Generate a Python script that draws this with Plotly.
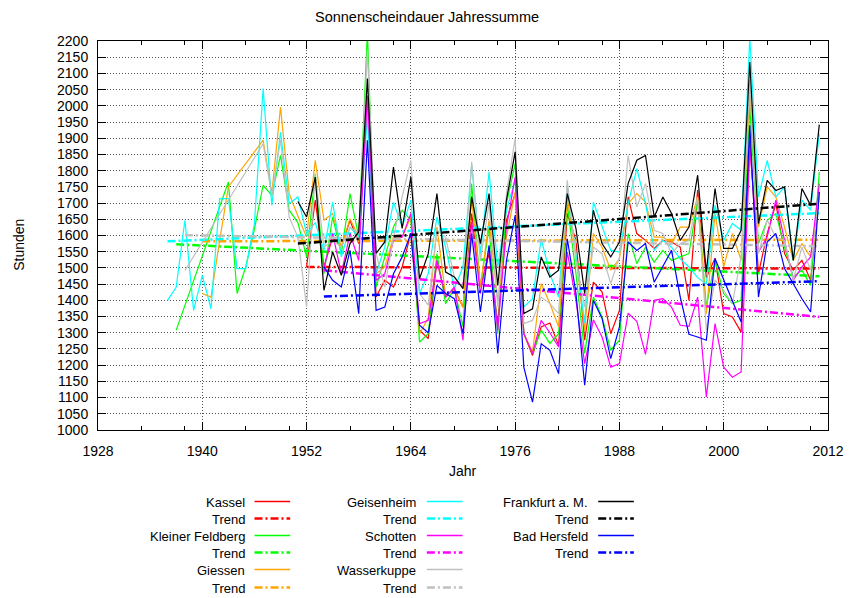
import plotly.graph_objects as go

# ---------------- data ----------------
kassel_start = 1952
kassel = [1503, 1709, 1503, 1595, 1564, 1647, 1575, 2027, 1410, 1462,
          1441, 1503, 1606, 1308, 1282, 1523, 1410, 1436, 1379, 1668,
          1441, 1544, 1328, 1647, 1729, 1297, 1230, 1318, 1330, 1261,
          1668, 1585, 1277, 1456, 1426, 1297, 1369, 1719, 1606, 1585,
          1560, 1585, 1580, 1564, 1400, 1740, 1470, 1530, 1359, 1349,
          1302, 1894, 1482, 1606, 1698, 1544, 1493, 1523, 1462, 1734]
kassel_trend = [1503, 1498]

feldberg_start = 1937
feldberg = [1308, None, None, None, None, None, 1765, 1421, 1503, 1620,
            1755, 1724, 1847, 1678, 1640, 1534, 1790, 1482, 1657, 1544,
            1729, 1595, 2230, 1441, 1534, 1626, 1678, 1647, 1271, 1297,
            1544, 1390, 1436, 1318, 1760, 1441, 1626, 1297, 1698, 1822,
            1297, 1236, 1308, 1267, 1297, 1698, 1482, 1236, 1410, 1349,
            1246, 1277, 1606, 1513, 1564, 1518, 1554, 1523, 1534, 1544,
            1709, 1379, 1523, 1421, 1390, 1400, 1996, 1575, 1647, 1668,
            1564, 1472, 1493, 1446, 1796]
feldberg_trend = [1573, 1474]

giessen_start = 1940
giessen = [1421, 1410, 1585, 1750, None, None, None, 1894, 1729, 1996,
           1729, 1660, 1595, 1832, 1647, 1668, 1564, 1652, 1595, 2020,
           1482, 1503, 1595, 1595, 1657, 1297, 1345, 1626, 1415, 1431,
           1379, 1714, 1441, 1647, 1400, 1595, 1734, 1297, 1241, 1452,
           1390, 1318, 1719, 1534, 1308, 1606, 1564, 1493, 1528, 1698,
           1729, 1703, 1595, 1595, 1575, 1626, 1626, 1719, 1359, 1668,
           1503, 1606, 1523, 2048, 1626, 1750, 1719, 1626, 1523, 1575,
           1534, 1719]
giessen_trend = [1582, 1587]

geisenheim_start = 1936
geisenheim = [1400, 1441, 1647, 1369, 1477, 1374, 1714, 1714, 1498, 1498,
              1637, 2053, 1693, 1919, 1698, 1719, 1606, 1640, 1554, 1703,
              1534, 1626, 1595, 1966, 1482, 1564, 1703, 1626, 1709, 1421,
              1482, 1657, 1564, 1436, 1503, 1817, 1544, 1796, 1503, 1678,
              1770, 1380, 1405, 1590, 1482, 1410, 1750, 1534, 1330, 1703,
              1626, 1554, 1549, 1698, 1806, 1698, 1554, 1585, 1564, 1528,
              1503, 1470, 1450, 1693, 1585, 1637, 1616, 2210, 1719, 1832,
              1719, 1750, 1523, 1709, 1678, 1914]
geisenheim_trend = [1582, 1669]

schotten_start = 1954
schotten = [1500, 1606, 1482, 1606, 1523, 2032, 1462, 1482, 1585, 1595,
            1668, 1328, 1338, 1523, 1410, 1441, 1277, 1642, 1421, 1564,
            1308, 1626, 1780, 1297, 1236, 1338, 1300, 1256, 1549, 1400,
            1205, 1340, 1287, 1194, 1205, 1360, 1335, 1233, 1400, 1405,
            1379, 1323, 1320, 1410, 1102, 1328, 1194, 1163, 1179, 1870,
            1549, 1595, 1709, 1585, 1462, 1503, 1534, 1760]
schotten_trend = [1493, 1349]

wasserkuppe_start = 1938
wasserkuppe = [1492, None, None, None, None, None, None, None, None, 1883,
               1724, 1894, 1657, 1595, 1380, 1790, 1564, 1585, 1564, 1626,
               1606, 2171, 1544, 1441, 1595, 1719, 1832, 1421, 1385, 1616,
               1595, 1472, 1441, 1827, 1523, 1698, 1380, 1729, 1899, 1328,
               1338, 1410, 1390, 1359, 1770, 1523, 1380, 1564, 1544, 1452,
               1534, 1847, 1688, 1760, 1616, 1606, 1544, 1575, 1585, 1719,
               1308, 1462, 1431, 1390, 1534, 2079, 1544, 1647, 1595, 1585,
               1462, 1564, 1493, 1729]
wasserkuppe_trend = [1601, 1567]

frankfurt_start = 1951
frankfurt = [1705, 1657, 1780, 1431, 1549, 1477, 1575, 1611, 2084, 1545,
             1580, 1811, 1622, 1780, 1467, 1544, 1729, 1487, 1472, 1436,
             1719, 1575, 1729, 1446, 1709, 1858, 1359, 1374, 1534, 1472,
             1493, 1729, 1621, 1421, 1678, 1575, 1534, 1580, 1760, 1832,
             1847, 1657, 1719, 1668, 1585, 1626, 1786, 1487, 1745, 1560,
             1560, 1616, 2135, 1637, 1770, 1739, 1750, 1523, 1745, 1693,
             1942]
frankfurt_trend = [1575, 1698]

hersfeld_start = 1954
hersfeld = [1503, 1462, 1441, 1554, 1359, 1894, 1369, 1379, 1482, 1534,
            1606, 1323, 1300, 1446, 1421, 1405, 1297, 1606, 1364, 1570,
            1236, 1523, 1662, 1194, 1086, 1266, 1246, 1174, 1590, 1421,
            1138, 1400, 1344, 1220, 1318, 1580, 1554, 1575, 1456, 1503,
            1554, 1410, 1295, 1287, 1277, 1529, 1462, 1400, 1333, 1940,
            1410, 1580, 1606, 1498, 1452, 1405, 1364, 1734]
hersfeld_trend = [1412, 1459]

x_ticks = [1928, 1940, 1952, 1964, 1976, 1988, 2000, 2012]
x_minor = [1933, 1938, 1945, 1950, 1957, 1962, 1969, 1974, 1981, 1986,
           1993, 1998, 2005, 2010]
y_ticks = list(range(1000, 2201, 50))

stations = [
    ("Kassel", kassel_start, kassel, kassel_trend, "#ff0000"),
    ("Kleiner Feldberg", feldberg_start, feldberg, feldberg_trend, "#00ff00"),
    ("Giessen", giessen_start, giessen, giessen_trend, "#ffa500"),
    ("Geisenheim", geisenheim_start, geisenheim, geisenheim_trend, "#00ffff"),
    ("Schotten", schotten_start, schotten, schotten_trend, "#ff00ff"),
    ("Wasserkuppe", wasserkuppe_start, wasserkuppe, wasserkuppe_trend, "#c0c0c0"),
    ("Frankfurt a. M.", frankfurt_start, frankfurt, frankfurt_trend, "#000000"),
    ("Bad Hersfeld", hersfeld_start, hersfeld, hersfeld_trend, "#0000ff"),
]

FONT = "Liberation Sans, Arial, sans-serif"
TREND_DASH = "8px,3px,2px,3px"

fig = go.Figure()
for name, start, vals, trend, color in stations:
    years = list(range(start, start + len(vals)))
    fig.add_trace(go.Scatter(x=years, y=vals, mode="lines", name=name,
                             line=dict(color=color, width=1.2),
                             connectgaps=True, showlegend=False))
    fig.add_trace(go.Scatter(x=[years[0], years[-1]], y=trend, mode="lines",
                             name="Trend", line=dict(color=color, width=2.5, dash=TREND_DASH),
                             showlegend=False))

# plot-area geometry (pixels)
W, H = 856, 598
ML, MR, MT, MB = 98, 21, 41, 168
PW, PH = W - ML - MR, H - MT - MB


def px(x):
    return (x - ML) / PW


def py(y):
    return (H - MB - y) / PH


annotations = [
    dict(text="Sonnenscheindauer Jahressumme", x=px(430), y=py(17), xref="paper", yref="paper",
         showarrow=False, xanchor="center", yanchor="middle", font=dict(size=14.5, color="black")),
    dict(text="Stunden", x=px(18), y=py(245), xref="paper", yref="paper", textangle=-90,
         showarrow=False, xanchor="center", yanchor="middle", font=dict(size=14, color="black")),
    dict(text="Jahr", x=px(466), y=py(471), xref="paper", yref="paper",
         showarrow=False, xanchor="center", yanchor="middle", font=dict(size=14, color="black")),
]
shapes = []

# custom gnuplot-style key: text right-aligned, sample line to the right
cols = [(248, 256, 292), (421.5, 430, 466), (595, 603, 639)]
rows = [501.5, 518.5, 535.5, 552.5, 569.5, 587.5]
entries = []
for name, start, vals, trend, color in stations:
    entries.append((name, color, None))
    entries.append(("Trend", color, TREND_DASH))
layout_slots = [(0, r) for r in range(6)] + [(1, r) for r in range(6)] + [(2, r) for r in range(4)]
for (label, color, dash), (c, r) in zip(entries, layout_slots):
    tx, l0, l1 = cols[c]
    yy = rows[r]
    annotations.append(dict(text=label, x=px(tx), y=py(yy + 0.5), xref="paper", yref="paper",
                            showarrow=False, xanchor="right", yanchor="middle",
                            font=dict(size=13, color="black")))
    shapes.append(dict(type="line", xref="paper", yref="paper", layer="above", opacity=1,
                       x0=px(l0), x1=px(l1), y0=py(yy), y1=py(yy),
                       line=dict(color=color, width=2.5 if dash else 1.5, dash=dash or "solid")))

axis_common = dict(showline=True, linecolor="black", linewidth=1, mirror="allticks",
                   ticks="inside", tickcolor="black", zeroline=False,
                   showgrid=True, gridcolor="#555555", gridwidth=1, griddash="1px,2px",
                   tickfont=dict(size=14, color="black"))

fig.update_layout(
    width=W, height=H,
    margin=dict(l=ML, r=MR, t=MT, b=MB, pad=0),
    paper_bgcolor="white", plot_bgcolor="white",
    font=dict(family=FONT, size=14, color="black"),
    showlegend=False,
    xaxis=dict(range=[1928, 2012], tickmode="array", tickvals=x_ticks,
               ticktext=[str(v) for v in x_ticks], ticklen=8, ticklabelstandoff=8,
               minor=dict(tickmode="array", tickvals=x_minor, ticks="inside", ticklen=4,
                          tickcolor="black", showgrid=False),
               **axis_common),
    yaxis=dict(range=[1000, 2200], tickmode="array", tickvals=y_ticks,
               ticktext=[str(v) for v in y_ticks], ticklen=8, ticklabelstandoff=6,
               **axis_common),
    annotations=annotations,
    shapes=shapes,
)

fig.write_html("out.html")
